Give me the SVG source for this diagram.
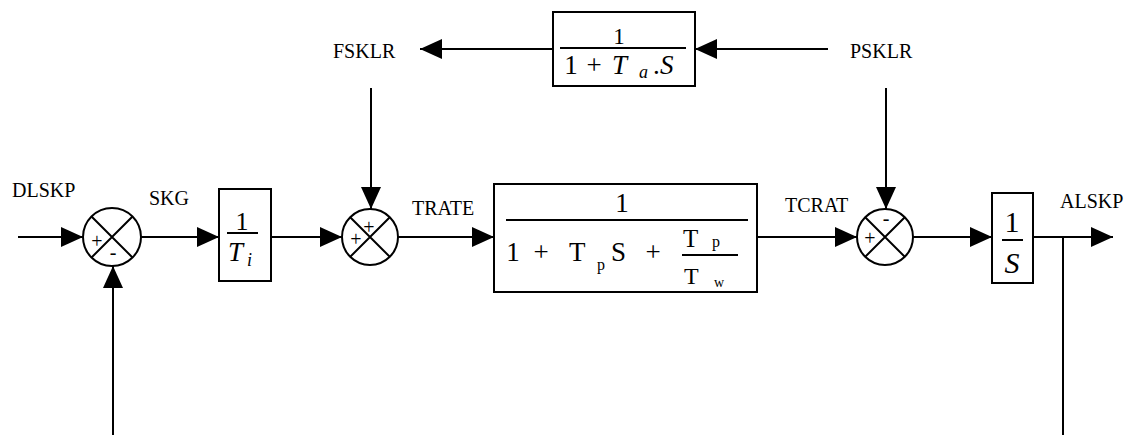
<svg xmlns="http://www.w3.org/2000/svg" width="1130" height="435" viewBox="0 0 1130 435">
<defs>
<marker id="ah" viewBox="0 0 22 20" markerWidth="22" markerHeight="20" refX="22" refY="10" orient="auto" markerUnits="userSpaceOnUse">
<path d="M0,0 L22,10 L0,20 z" fill="#000"/>
</marker>
<style>
.ln{fill:none;stroke:#000;stroke-width:2}
.bx{fill:#fff;stroke:#000;stroke-width:2}
.lb{font-family:"Liberation Serif",serif;font-size:20px;fill:#000}
.fx{font-family:"Liberation Serif",serif;fill:#000}
.it{font-style:italic}
.sg{font-family:"Liberation Serif",serif;font-size:20px;fill:#000;text-anchor:middle}
</style>
</defs>
<rect width="1130" height="435" fill="#fff"/>
<g id="connectors">
<path class="ln" d="M18,237 H83" marker-end="url(#ah)"/>
<path class="ln" d="M141,237 H219" marker-end="url(#ah)"/>
<path class="ln" d="M271,237 H342" marker-end="url(#ah)"/>
<path class="ln" d="M398,237 H494" marker-end="url(#ah)"/>
<path class="ln" d="M757,237 H857" marker-end="url(#ah)"/>
<path class="ln" d="M913,237 H992" marker-end="url(#ah)"/>
<path class="ln" d="M1033,237 H1113" marker-end="url(#ah)"/>
<path class="ln" d="M1063,237 V435"/>
<path class="ln" d="M113,435 V266" marker-end="url(#ah)"/>
<path class="ln" d="M828,49 H695" marker-end="url(#ah)"/>
<path class="ln" d="M553,49 H420" marker-end="url(#ah)"/>
<path class="ln" d="M371,88 V209" marker-end="url(#ah)"/>
<path class="ln" d="M886,88 V209" marker-end="url(#ah)"/>
</g>
<g id="labels">
<text class="lb" x="12" y="197">DLSKP</text>
<text class="lb" x="149" y="205">SKG</text>
<text class="lb" x="333" y="58">FSKLR</text>
<text class="lb" x="850" y="58">PSKLR</text>
<text class="lb" x="412" y="215">TRATE</text>
<text class="lb" x="785" y="212">TCRAT</text>
<text class="lb" x="1060" y="208">ALSKP</text>
</g>
<g id="sum1">
<circle class="ln" cx="112" cy="237" r="29"/>
<path class="ln" d="M91.5,216.5 L132.5,257.5 M132.5,216.5 L91.5,257.5"/>
<text class="sg" x="97" y="248">+</text>
<text class="sg" x="113" y="259">-</text>
</g>
<g id="gainTi">
<rect class="bx" x="219" y="189" width="52" height="92"/>
<text class="fx" x="242" y="230" font-size="26" text-anchor="middle">1</text>
<path class="ln" d="M227,233 H258"/>
<text class="fx it" x="228" y="261" font-size="27">T</text>
<text class="fx it" x="247" y="266" font-size="18">i</text>
</g>
<g id="sum2">
<circle class="ln" cx="370" cy="237" r="28"/>
<path class="ln" d="M350.2,217.2 L389.8,256.8 M389.8,217.2 L350.2,256.8"/>
<text class="sg" x="369" y="234">+</text>
<text class="sg" x="356" y="246">+</text>
</g>
<g id="lag">
<rect class="bx" x="553" y="12" width="142" height="74"/>
<text class="fx" x="619" y="44" font-size="23" text-anchor="middle">1</text>
<path class="ln" d="M560,48 H686"/>
<text class="fx" x="571" y="74" font-size="27" text-anchor="middle">1</text>
<text class="fx" x="594" y="74" font-size="27" text-anchor="middle">+</text>
<text class="fx it" x="612" y="74" font-size="27">T</text>
<text class="fx it" x="639" y="78" font-size="18">a</text>
<text class="fx" x="653" y="74" font-size="27">.</text>
<text class="fx it" x="660" y="74" font-size="27">S</text>
</g>
<g id="plant">
<rect class="bx" x="494" y="184" width="263" height="108"/>
<text class="fx" x="622" y="212" font-size="27" text-anchor="middle">1</text>
<path class="ln" d="M506,220 H748"/>
<text class="fx" x="513" y="261" font-size="27" text-anchor="middle">1</text>
<text class="fx" x="541" y="261" font-size="27" text-anchor="middle">+</text>
<text class="fx" x="569" y="261" font-size="27">T</text>
<text class="fx" x="597" y="270" font-size="16">p</text>
<text class="fx" x="611" y="261" font-size="27">S</text>
<text class="fx" x="653" y="261" font-size="27" text-anchor="middle">+</text>
<text class="fx" x="683" y="247" font-size="25">T</text>
<text class="fx" x="712" y="247" font-size="16">p</text>
<path class="ln" d="M682,255 H738"/>
<text class="fx" x="684" y="284" font-size="24">T</text>
<text class="fx" x="714" y="287" font-size="14">w</text>
</g>
<g id="sum3">
<circle class="ln" cx="885" cy="237" r="28"/>
<path class="ln" d="M865.2,217.2 L904.8,256.8 M904.8,217.2 L865.2,256.8"/>
<text class="sg" x="886" y="225">-</text>
<text class="sg" x="870" y="245">+</text>
</g>
<g id="integrator">
<rect class="bx" x="992" y="193" width="41" height="90"/>
<text class="fx" x="1012" y="232" font-size="30" text-anchor="middle">1</text>
<path class="ln" d="M1002,240 H1023"/>
<text class="fx it" x="1012" y="273" font-size="30" text-anchor="middle">S</text>
</g>
</svg>
